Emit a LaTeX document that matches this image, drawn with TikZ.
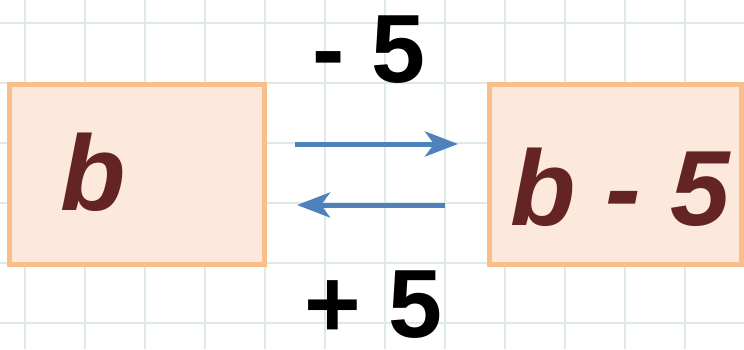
\documentclass[tikz,border=0pt]{standalone}
\usepackage{fontspec}
\setmainfont{Liberation Sans}
\usetikzlibrary{arrows.meta}

\definecolor{gridline}{RGB}{222,234,230}
\definecolor{boxedge}{RGB}{250,190,140}
\definecolor{boxfill}{RGB}{253,233,219}
\definecolor{vartext}{RGB}{99,36,35}
\definecolor{arrowblue}{RGB}{79,129,189}

\tikzset{
    valbox/.style={draw=boxedge, fill=boxfill, line width=5pt, minimum height=180pt},
    valtext/.style={anchor=base west, inner sep=0pt, text=vartext, text depth=0pt,
        font=\fontsize{107}{107}\selectfont\bfseries\itshape},
    optext/.style={anchor=base, inner sep=0pt, text depth=0pt,
        font=\fontsize{97}{97}\selectfont\bfseries},
    oparrow/.style={arrowblue, line width=5pt,
        -{Stealth[length=33pt, width=25pt, inset=9pt]}}
}

\begin{document}
\begin{tikzpicture}[x=1pt, y=1pt]
    \useasboundingbox (0,0) rectangle (744,349);
    \fill[white] (0,0) rectangle (744,349);
    % squared paper
    \foreach \gx in {25,85,...,745}
        \draw[gridline, line width=1.8pt] (\gx,0) -- (\gx,349);
    \foreach \gy in {26,86,...,349}
        \draw[gridline, line width=1.8pt] (0,\gy) -- (744,\gy);

    \node[valbox, minimum width=255pt] (lbox) at (137,174.5) {};
    \node[valbox, minimum width=252pt] (rbox) at (615.5,174.5) {};
    \node[valtext] (lval) at (60,139) {b};
    \node[valtext] (rval) at (510,124) {b - 5};

    \draw[oparrow, shorten <=28pt, shorten >=29pt]
        ([yshift=30.5pt]lbox.east) -- ([yshift=30.5pt]rbox.west);
    \draw[oparrow, shorten <=42pt, shorten >=30pt]
        ([yshift=-30.5pt]rbox.west) -- ([yshift=-30.5pt]lbox.east);

    \node[optext] (minus) at (369,267) {- 5};
    \node[optext] (plus) at (373.5,12) {+ 5};
\end{tikzpicture}
\end{document}
